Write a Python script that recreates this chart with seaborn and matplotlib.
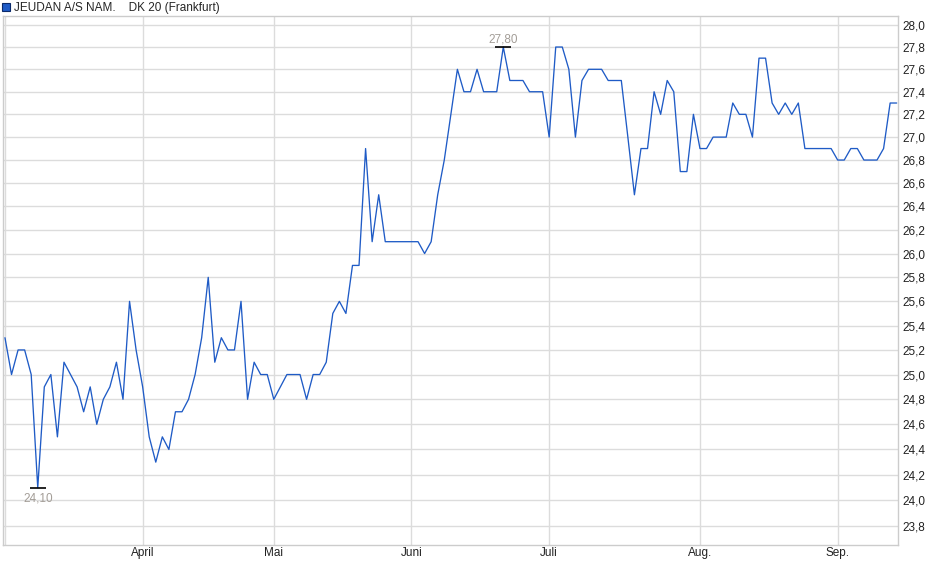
import numpy as np
import pandas as pd
import matplotlib
matplotlib.use("Agg")
import matplotlib.pyplot as plt
from matplotlib.lines import Line2D
from matplotlib.ticker import FixedLocator, FuncFormatter, NullLocator
import seaborn as sns

# ---- data -----------------------------------------------------------------
start_date = "2025-03-03"
end_date = "2025-09-12"
exchange_holidays = ["2025-04-18", "2025-04-21", "2025-05-01"]

prices = [
    25.3, 25.0, 25.2, 25.2, 25.0, 24.1, 24.9, 25.0, 24.5, 25.1,
    25.0, 24.9, 24.7, 24.9, 24.6, 24.8, 24.9, 25.1, 24.8, 25.6,
    25.2, 24.9, 24.5, 24.3, 24.5, 24.4, 24.7, 24.7, 24.8, 25.0,
    25.3, 25.8, 25.1, 25.3, 25.2, 25.2, 25.6, 24.8, 25.1, 25.0,
    25.0, 24.8, 24.9, 25.0, 25.0, 25.0, 24.8, 25.0, 25.0, 25.1,
    25.5, 25.6, 25.5, 25.9, 25.9, 26.9, 26.1, 26.5, 26.1, 26.1,
    26.1, 26.1, 26.1, 26.1, 26.0, 26.1, 26.5, 26.8, 27.2, 27.6,
    27.4, 27.4, 27.6, 27.4, 27.4, 27.4, 27.8, 27.5, 27.5, 27.5,
    27.4, 27.4, 27.4, 27.0, 27.8, 27.8, 27.6, 27.0, 27.5, 27.6,
    27.6, 27.6, 27.5, 27.5, 27.5, 27.0, 26.5, 26.9, 26.9, 27.4,
    27.2, 27.5, 27.4, 26.7, 26.7, 27.2, 26.9, 26.9, 27.0, 27.0,
    27.0, 27.3, 27.2, 27.2, 27.0, 27.7, 27.7, 27.3, 27.2, 27.3,
    27.2, 27.3, 26.9, 26.9, 26.9, 26.9, 26.9, 26.8, 26.8, 26.9,
    26.9, 26.8, 26.8, 26.8, 26.9, 27.3, 27.3,
]

month_labels = ["April", "Mai", "Juni", "Juli", "Aug.", "Sep."]
y_ticks = [23.8, 24.0, 24.2, 24.4, 24.6, 24.8, 25.0, 25.2, 25.4, 25.6, 25.8,
           26.0, 26.2, 26.4, 26.6, 26.8, 27.0, 27.2, 27.4, 27.6, 27.8, 28.0]
legend_label = "JEUDAN A/S NAM.    DK 20 (Frankfurt)"

# ---- frame ----------------------------------------------------------------
dates = pd.bdate_range(start_date, end_date, freq="C", holidays=exchange_holidays)
n = min(len(dates), len(prices))
df = pd.DataFrame({"date": dates[:n], "price": prices[:n]})
df["idx"] = np.arange(n)

# first trading day of each month
first_of_month = df.groupby(df["date"].dt.to_period("M"))["idx"].min().tolist()
month_pos = first_of_month[1:1 + len(month_labels)]

# ---- plot -----------------------------------------------------------------
sns.set_theme(style="white")
plt.rcParams["font.family"] = ["Liberation Sans", "DejaVu Sans"]

W, H = 940, 579
fig = plt.figure(figsize=(W / 100, H / 100), dpi=100)
ax = fig.add_axes([3 / W, 1 - 545 / H, 895 / W, 529 / H])

line_color = "#1f5bc6"
grid_color = "#dcdcdc"

sns.lineplot(data=df, x="idx", y="price", ax=ax, color=line_color,
             linewidth=0.95, legend=False, zorder=3)

ax.set_yscale("log")
ax.set_ylim(23.656, 28.081)
ax.set_xlim(-0.3, n - 1 + 0.2)

ax.yaxis.set_major_locator(FixedLocator(y_ticks))
ax.yaxis.set_minor_locator(NullLocator())
ax.yaxis.set_major_formatter(FuncFormatter(lambda v, p: f"{v:.1f}".replace(".", ",")))
ax.yaxis.tick_right()
ax.tick_params(axis="y", which="both", length=0, pad=3.5, labelsize=8.5, colors="#222222")

ax.set_xticks(month_pos)
ax.set_xticklabels(month_labels)
ax.tick_params(axis="x", length=0, pad=1.5, labelsize=8.5, colors="#222222")

# grid lines: horizontal at ticks, vertical at month starts (incl. first month)
for v in y_ticks:
    ax.axhline(v, color=grid_color, linewidth=1.0, zorder=1)
for p in first_of_month[:1 + len(month_labels)]:
    ax.axvline(p, color=grid_color, linewidth=1.0, zorder=1)

ax.set_xlabel("")
ax.set_ylabel("")
for s in ax.spines.values():
    s.set_color("#cccccc")
    s.set_linewidth(1.0)

# extreme markers
imax = int(np.argmax(df["price"].values))
imin = int(np.argmin(df["price"].values))
vmax = df["price"].iloc[imax]
vmin = df["price"].iloc[imin]
ax.plot([imax], [vmax], marker="_", markersize=11, markeredgewidth=1.2,
        color="black", zorder=4)
ax.plot([imin], [vmin], marker="_", markersize=11, markeredgewidth=1.2,
        color="black", zorder=4)
ann_color = "#a39d97"
ax.annotate(f"{vmax:.2f}".replace(".", ","), (imax, vmax), xytext=(0, 1),
            textcoords="offset points", ha="center", va="bottom",
            fontsize=8.5, color=ann_color)
ax.annotate(f"{vmin:.2f}".replace(".", ","), (imin, vmin), xytext=(0, -3.5),
            textcoords="offset points", ha="center", va="top",
            fontsize=8.5, color=ann_color)

# legend-like header
handle = Line2D([], [], linestyle="none", marker="s", markersize=5.5,
                markerfacecolor="#1f5bc6", markeredgecolor="#0b2a6b",
                markeredgewidth=0.8)
fig.legend([handle], [legend_label], loc="upper left",
           bbox_to_anchor=(-0.008, 1.012), frameon=False, fontsize=8.5,
           handlelength=0.7, handletextpad=0.3, borderpad=0.3)

fig.savefig("out.png", dpi=100)
